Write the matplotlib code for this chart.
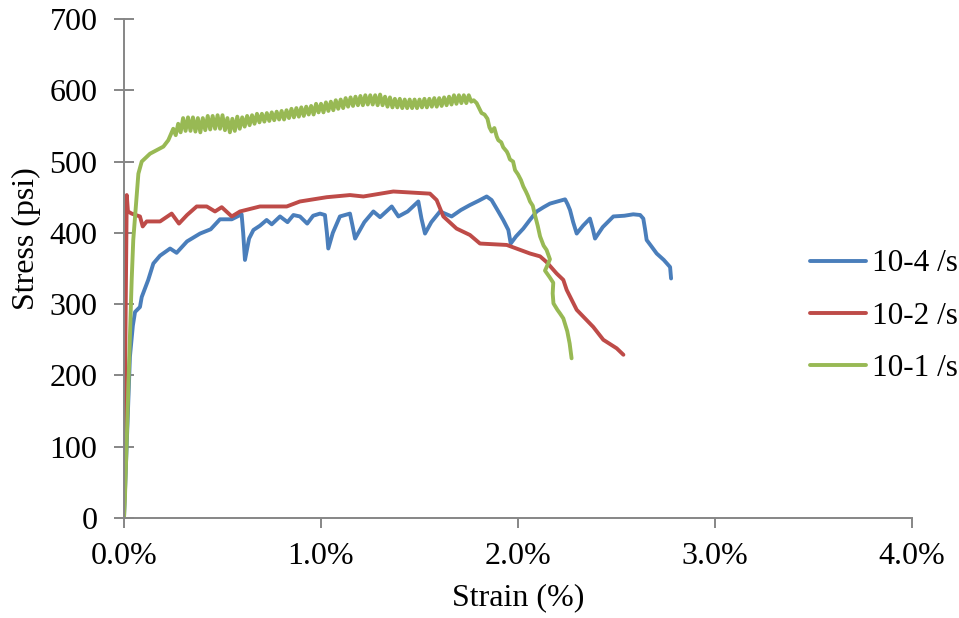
import matplotlib
matplotlib.use("Agg")
import matplotlib.pyplot as plt

plt.rcParams['font.family'] = ['Liberation Serif', 'DejaVu Serif']

# strain in %, stress in psi
blue_strain = [0.0, 0.02, 0.03, 0.045, 0.056, 0.081, 0.09, 0.123, 0.149, 0.183, 0.234, 0.267,
               0.32, 0.386, 0.44, 0.487, 0.547, 0.597, 0.605, 0.614, 0.635, 0.657, 0.69, 0.724,
               0.75, 0.792, 0.83, 0.86, 0.893, 0.93, 0.96, 0.995, 1.02, 1.03, 1.037, 1.06,
               1.096, 1.147, 1.16, 1.173, 1.22, 1.266, 1.3, 1.359, 1.393, 1.44, 1.494, 1.51,
               1.528, 1.56, 1.604, 1.663, 1.71, 1.756, 1.80, 1.841, 1.866, 1.9, 1.925, 1.951,
               1.963, 1.99, 2.027, 2.06, 2.095, 2.13, 2.162, 2.2, 2.239, 2.252, 2.264, 2.28,
               2.298, 2.33, 2.365, 2.38, 2.391, 2.43, 2.484, 2.54, 2.585, 2.62, 2.636, 2.645,
               2.653, 2.68, 2.704, 2.74, 2.772, 2.777]
blue_stress = [0, 150, 226, 270, 289, 296, 310, 334, 357, 368, 378, 372,
               388, 399, 405, 419, 419, 426, 400, 362, 392, 404, 410, 418,
               412, 423, 415, 425, 423, 413, 424, 427, 425, 400, 378, 400,
               423, 427, 410, 392, 415, 430, 422, 437, 423, 430, 444, 420,
               399, 415, 430, 423, 432, 439, 445, 451, 446, 430, 418, 404,
               385, 395, 406, 418, 430, 436, 441, 444, 447, 440, 432, 415,
               399, 410, 420, 405, 392, 408, 423, 424, 426, 425, 420, 405,
               390, 380, 371, 362, 352, 336]

red_strain = [0.0, 0.005, 0.014, 0.02, 0.039, 0.081, 0.095, 0.115, 0.183, 0.242, 0.279,
              0.32, 0.369, 0.42, 0.462, 0.496, 0.547, 0.589, 0.69, 0.826, 0.893, 1.029,
              1.147, 1.215, 1.367, 1.553, 1.587, 1.621, 1.688, 1.756, 1.807, 1.943, 2.061,
              2.112, 2.145, 2.196, 2.23, 2.247, 2.298, 2.382, 2.433, 2.501, 2.535]
red_stress = [0, 190, 453, 430, 427, 423, 409, 416, 416, 427, 413,
              425, 437, 437, 430, 436, 423, 430, 437, 437, 444, 450,
              453, 451, 458, 455, 446, 423, 406, 397, 385, 383, 371,
              367, 359, 343, 334, 320, 292, 268, 250, 238, 229]

green_strain = [0.0, 0.005, 0.039, 0.047, 0.073, 0.09, 0.132, 0.2, 0.225,
                0.2500, 0.2625, 0.2750, 0.2875, 0.3000, 0.3125, 0.3250, 0.3375,
                0.3500, 0.3625, 0.3750, 0.3875, 0.4000, 0.4125, 0.4250, 0.4375,
                0.4500, 0.4625, 0.4750, 0.4875, 0.5000, 0.5125, 0.5250, 0.5375,
                0.5500, 0.5625, 0.5750, 0.5875, 0.6000, 0.6125, 0.6250, 0.6375,
                0.6500, 0.6625, 0.6750, 0.6875, 0.7000, 0.7125, 0.7250, 0.7375,
                0.7500, 0.7625, 0.7750, 0.7875, 0.8000, 0.8125, 0.8250, 0.8375,
                0.8500, 0.8625, 0.8750, 0.8875, 0.9000, 0.9125, 0.9250, 0.9375,
                0.9500, 0.9625, 0.9750, 0.9875, 1.0000, 1.0125, 1.0250, 1.0375,
                1.0500, 1.0625, 1.0750, 1.0875, 1.1000, 1.1125, 1.1250, 1.1375,
                1.1500, 1.1625, 1.1750, 1.1875, 1.2000, 1.2125, 1.2250, 1.2375,
                1.2500, 1.2625, 1.2750, 1.2875, 1.3000, 1.3125, 1.3250, 1.3375,
                1.3500, 1.3625, 1.3750, 1.3875, 1.4000, 1.4125, 1.4250, 1.4375,
                1.4500, 1.4625, 1.4750, 1.4875, 1.5000, 1.5125, 1.5250, 1.5375,
                1.5500, 1.5625, 1.5750, 1.5875, 1.6000, 1.6125, 1.6250, 1.6375,
                1.6500, 1.6625, 1.6750, 1.6875, 1.7000, 1.7125, 1.7250, 1.7375,
                1.7500, 1.7625,
                1.775, 1.790, 1.815, 1.83, 1.845, 1.855, 1.866, 1.88, 1.892, 1.90,
                1.915, 1.925, 1.943, 1.95, 1.959, 1.975, 1.985, 2.0, 2.015, 2.027,
                2.04, 2.05, 2.061, 2.075, 2.086, 2.10, 2.112, 2.13, 2.145, 2.162,
                2.15, 2.137, 2.16, 2.179, 2.176, 2.18, 2.20, 2.213, 2.23, 2.239,
                2.25, 2.262, 2.272]
green_stress = [0, 30, 334, 390, 483, 500, 511, 521, 530,
                546, 537, 553, 541, 561, 543, 562, 543,
                562, 542, 561, 541, 561, 544, 564, 545,
                564, 546, 565, 546, 565, 544, 561, 541,
                560, 543, 563, 546, 562, 549, 564, 551,
                565, 553, 567, 555, 567, 556, 568, 557,
                569, 558, 570, 559, 571, 559, 572, 561,
                574, 562, 575, 563, 576, 564, 577, 566,
                578, 566, 581, 569, 581, 569, 583, 571,
                584, 572, 586, 574, 587, 575, 589, 577,
                590, 578, 591, 579, 592, 579, 593, 580,
                593, 580, 593, 579, 594, 579, 591, 577,
                590, 576, 588, 576, 588, 575, 587, 575,
                587, 575, 587, 575, 587, 576, 588, 576,
                588, 577, 589, 577, 589, 578, 590, 579,
                591, 580, 593, 581, 593, 582, 593, 582,
                593, 584,
                586, 582, 568, 566, 560, 548, 542, 547, 535, 530,
                527, 520, 514, 510, 503, 500, 488, 482, 474, 465,
                458, 452, 444, 438, 425, 410, 395, 382, 376, 363,
                355, 347, 338, 330, 315, 301, 292, 287, 280, 272,
                262, 245, 224]

labels = ['10-4 /s', '10-2 /s', '10-1 /s']
colors = ['#4A7EBB', '#BE4B48', '#98B954']

fig = plt.figure(figsize=(9.59, 6.18), dpi=100)
ax = fig.add_axes([0.1293, 0.1618, 0.8217, 0.8075])

ax.plot(blue_strain, blue_stress, color=colors[0], lw=2.8, label=labels[0],
        solid_joinstyle='round', solid_capstyle='round')
ax.plot(red_strain, red_stress, color=colors[1], lw=2.8, label=labels[1],
        solid_joinstyle='round', solid_capstyle='round')
ax.plot(green_strain, green_stress, color=colors[2], lw=2.8, label=labels[2],
        solid_joinstyle='round', solid_capstyle='round')

ax.set_xlim(0, 4.0)
ax.set_ylim(0, 700)
ax.set_xticks([0, 1, 2, 3, 4])
ax.set_xticklabels([f"{v:.1f}%" for v in [0, 1, 2, 3, 4]])
ax.set_yticks(range(0, 701, 100))

for s in ['top', 'right']:
    ax.spines[s].set_visible(False)
for s in ['left', 'bottom']:
    ax.spines[s].set_color('#868686')
    ax.spines[s].set_linewidth(1.4)

ax.tick_params(axis='y', direction='inout', length=14, width=1.4, color='#868686',
               labelsize=23, pad=12)
ax.tick_params(axis='x', direction='out', length=7, width=1.4, color='#868686',
               labelsize=23, pad=10)

ax.set_xlabel('Strain (%)', fontsize=23)
ax.set_ylabel('Stress (psi)', fontsize=23)
ax.xaxis.set_label_coords(0.5, -0.13)
ax.yaxis.set_label_coords(-0.105, 0.559)

ax.legend(loc='center left', bbox_to_anchor=(0.8446, 0.488), bbox_transform=fig.transFigure,
          frameon=False, fontsize=22.5, handlelength=1.8, handletextpad=0.2,
          labelspacing=0.75, borderpad=0, borderaxespad=0)

fig.savefig('out.png', dpi=100)
